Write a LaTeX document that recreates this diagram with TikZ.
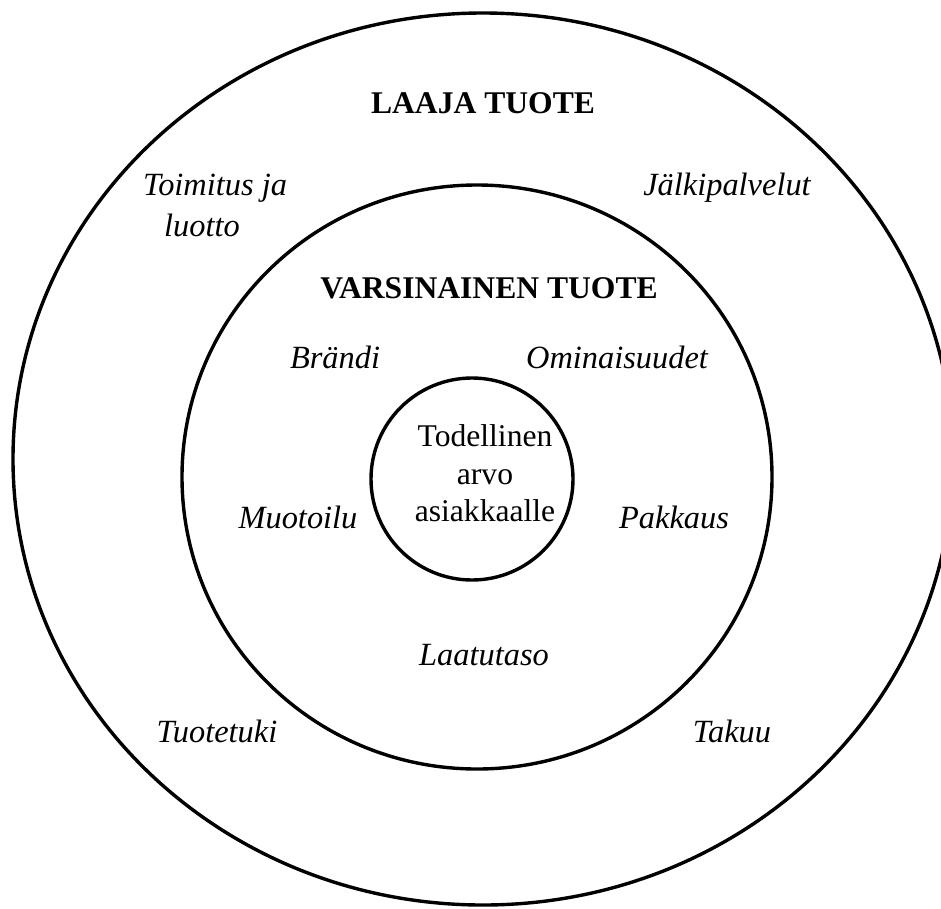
\documentclass[tikz,border=0pt]{standalone}
\usepackage{fontspec}
\setmainfont{Liberation Serif}
\usetikzlibrary{shapes.geometric}
\begin{document}
\begin{tikzpicture}[x=1pt,y=-1pt,
  ring/.style={draw=black,line width=3.4pt},
  lbl/.style={inner sep=0pt,anchor=base,font=\fontsize{32.4}{38}\selectfont\itshape},
  head/.style={inner sep=0pt,anchor=base,font=\fontsize{31.6}{38}\selectfont\bfseries},
  core/.style={inner sep=0pt,anchor=base,font=\fontsize{31.6}{38}\selectfont}]
\useasboundingbox (0,0) rectangle (941,908);
\clip (0,0) rectangle (941,908);
\fill[white] (0,0) rectangle (941,908);
% rings
\node[ring,ellipse,minimum width=940pt,minimum height=892pt,inner sep=0pt] (outer) at (483,459) {};
\node[ring,ellipse,minimum width=590pt,minimum height=584pt,inner sep=0pt] (middle) at (477,477) {};
\node[ring,circle,minimum size=202pt,inner sep=0pt] (inner) at (472,479) {};
% headings
\node[head] (laaja) at (483,113) {LAAJA TUOTE};
\node[head] (varsinainen) at (489,298) {VARSINAINEN TUOTE};
% outer ring labels
\node[lbl,anchor=base west] (toimitus) at (143,195) {Toimitus ja};
\node[lbl,anchor=base west] (luotto) at (164,236) {luotto};
\node[lbl] (jalki) at (727,195) {Jälkipalvelut};
\node[lbl] (tuotetuki) at (217,742) {Tuotetuki};
\node[lbl] (takuu) at (732,742) {Takuu};
% middle ring labels
\node[lbl] (brandi) at (335,368) {Brändi};
\node[lbl] (omin) at (617,368) {Ominaisuudet};
\node[lbl] (muotoilu) at (298,528) {Muotoilu};
\node[lbl] (pakkaus) at (674,528) {Pakkaus};
\node[lbl] (laatu) at (484,665) {Laatutaso};
% core
\node[core] (tod1) at (485,446) {Todellinen};
\node[core] (tod2) at (485,484) {arvo};
\node[core] (tod3) at (485,521) {asiakkaalle};
\end{tikzpicture}
\end{document}
